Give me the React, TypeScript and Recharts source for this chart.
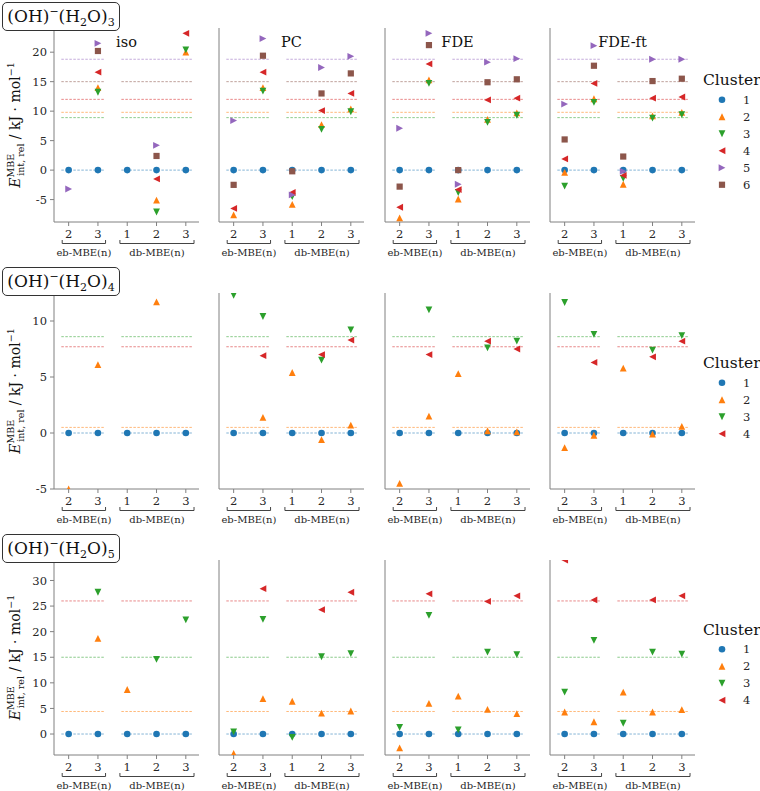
import React from "react";
import { ScatterChart, Scatter, XAxis, YAxis, ReferenceLine } from "recharts";

const FONT = "'DejaVu Serif', serif";
const TEXT = "#262626";
const SPINE = "#808080";

const COLORS = ["#1f77b4", "#ff7f0e", "#2ca02c", "#d62728", "#9467bd", "#8c564b"];
const SHAPES = ["circle", "up", "down", "left", "right", "square"];

const METHODS = ["iso", "PC", "FDE", "FDE-ft"];
const X_TICKS = [0, 1, 2, 3, 4];
const X_TICK_LABELS = ["2", "3", "1", "2", "3"];
const GROUP_LABELS = ["eb-MBE(n)", "db-MBE(n)"];
const GROUP_SPANS = [[-0.22, 1.26], [1.75, 4.28]];
const REF_SPANS = [[-0.25, 1.2], [1.8, 4.25]];
const XMIN = -0.5;
const XMAX = 4.45;

// (OH)-(H2O)3 : clusters 1..6, positions eb2 eb3 db1 db2 db3
const W3_REF = [0, 9.8, 8.9, 12.0, 18.8, 15.0];
const W3_ISO = [
  [0, 0, 0, 0, 0],
  [null, 14.0, null, -5.1, 20.0],
  [null, 13.2, null, -7.1, 20.4],
  [null, 16.6, null, -1.5, 23.2],
  [-3.2, 21.5, null, 4.2, null],
  [null, 20.2, null, 2.4, null],
];
const W3_PC = [
  [0, 0, 0, 0, 0],
  [-7.6, 14.0, -5.8, 7.7, 10.4],
  [null, 13.4, -4.5, 6.9, 9.9],
  [-6.5, 16.6, -3.8, 10.1, 13.0],
  [8.4, 22.3, -4.2, 17.4, 19.3],
  [-2.5, 19.4, -0.2, 13.0, 16.4],
];
const W3_FDE = [
  [0, 0, 0, 0, 0],
  [-8.1, 15.3, -4.9, 8.6, 9.7],
  [null, 14.7, -3.8, 8.1, 9.3],
  [-6.3, 18.0, -3.3, 11.9, 12.2],
  [7.1, 23.2, -2.4, 18.3, 18.9],
  [-2.8, 21.2, 0.0, 14.9, 15.4],
];
const W3_FDEFT = [
  [0, 0, 0, 0, 0],
  [-0.4, 12.1, -2.4, 9.2, 9.8],
  [-2.7, 11.5, -1.4, 8.8, 9.4],
  [1.9, 14.7, -0.9, 12.2, 12.4],
  [11.2, 21.1, -0.2, 18.8, 18.8],
  [5.2, 17.7, 2.3, 15.1, 15.5],
];

// (OH)-(H2O)4 : clusters 1..4
const W4_REF = [0, 0.5, 8.6, 7.7];
const W4_ISO = [
  [0, 0, 0, 0, 0],
  [-5.0, 6.1, null, 11.7, null],
  [null, null, null, null, null],
  [null, null, null, null, null],
];
const W4_PC = [
  [0, 0, 0, 0, 0],
  [null, 1.4, 5.4, -0.6, 0.7],
  [12.3, 10.4, null, 6.5, 9.2],
  [null, 6.9, null, 7.0, 8.3],
];
const W4_FDE = [
  [0, 0, 0, 0, 0],
  [-4.5, 1.5, 5.3, 0.2, 0.1],
  [null, 11.0, null, 7.6, 8.2],
  [null, 7.0, null, 8.2, 7.5],
];
const W4_FDEFT = [
  [0, 0, 0, 0, 0],
  [-1.3, -0.2, 5.8, -0.1, 0.6],
  [11.65, 8.8, null, 7.4, 8.7],
  [null, 6.3, null, 6.8, 8.2],
];

// (OH)-(H2O)5 : clusters 1..4
const W5_REF = [0, 4.4, 15.0, 26.0];
const W5_ISO = [
  [0, 0, 0, 0, 0],
  [null, 18.7, 8.7, null, null],
  [null, 27.7, null, 14.6, 22.3],
  [null, null, null, null, null],
];
const W5_PC = [
  [0, 0, 0, 0, 0],
  [-3.8, 6.9, 6.4, 4.1, 4.5],
  [0.4, 22.4, -0.65, 15.1, 15.7],
  [null, 28.4, null, 24.3, 27.7],
];
const W5_FDE = [
  [0, 0, 0, 0, 0],
  [-2.7, 6.0, 7.4, 4.8, 4.0],
  [1.3, 23.2, 0.8, 16.0, 15.5],
  [null, 27.4, null, 25.9, 27.0],
];
const W5_FDEFT = [
  [0, 0, 0, 0, 0],
  [4.3, 2.4, 8.2, 4.3, 4.75],
  [8.2, 18.3, 2.1, 16.0, 15.6],
  [34.0, 26.2, null, 26.2, 27.0],
];

const ROWS = [
  { n: "3", ref: W3_REF, panels: [W3_ISO, W3_PC, W3_FDE, W3_FDEFT], domain: [-8.8, 24.1], ticks: [-5, 0, 5, 10, 15, 20], top: 28, h: 194 },
  { n: "4", ref: W4_REF, panels: [W4_ISO, W4_PC, W4_FDE, W4_FDEFT], domain: [-5, 12.5], ticks: [-5, 0, 5, 10], top: 293, h: 196 },
  { n: "5", ref: W5_REF, panels: [W5_ISO, W5_PC, W5_FDE, W5_FDEFT], domain: [-4.1, 34], ticks: [0, 5, 10, 15, 20, 25, 30], top: 560, h: 195 },
];

const PANEL_X = [54, 219, 385, 550];
const PLOT_W = 145;
const Y_W = 40;
const M_TOP = 10;
const X_H = 42;
const PX = PLOT_W / (XMAX - XMIN);

function Marker({ cx, cy, kind, color }: { cx: number; cy: number; kind: string; color: string }) {
  const s = 3.4;
  if (cx == null || cy == null || isNaN(cx) || isNaN(cy)) return null;
  switch (kind) {
    case "circle":
      return <circle cx={cx} cy={cy} r={3.3} fill={color} />;
    case "square":
      return <rect x={cx - 3.1} y={cy - 3.1} width={6.2} height={6.2} fill={color} />;
    case "up":
      return <polygon points={`${cx},${cy - s} ${cx - s},${cy + s} ${cx + s},${cy + s}`} fill={color} />;
    case "down":
      return <polygon points={`${cx},${cy + s} ${cx - s},${cy - s} ${cx + s},${cy - s}`} fill={color} />;
    case "left":
      return <polygon points={`${cx - s},${cy} ${cx + s},${cy - s} ${cx + s},${cy + s}`} fill={color} />;
    default:
      return <polygon points={`${cx + s},${cy} ${cx - s},${cy - s} ${cx - s},${cy + s}`} fill={color} />;
  }
}

function XTick(props: any) {
  const { x, y, payload } = props;
  const i = payload.value as number;
  const g = i === 0 ? 0 : i === 2 ? 1 : -1;
  return (
    <g>
      <text x={x} y={y + 11.5} textAnchor="middle" fontFamily={FONT} fontSize={11.5} fill={TEXT}>
        {X_TICK_LABELS[i]}
      </text>
      {g >= 0 && (() => {
        const x0 = x + (GROUP_SPANS[g][0] - i) * PX;
        const x1 = x + (GROUP_SPANS[g][1] - i) * PX;
        return (
          <g>
            <path d={`M${x0},${y + 14} V${y + 17.5} H${x1} V${y + 14}`} stroke="#444" strokeWidth={1} fill="none" />
            <text x={(x0 + x1) / 2} y={y + 29.5} textAnchor="middle" fontFamily={FONT} fontSize={10} fill={TEXT}>
              {GROUP_LABELS[g]}
            </text>
          </g>
        );
      })()}
    </g>
  );
}

function Panel({ row, col }: { row: (typeof ROWS)[number]; col: number }) {
  const vals = row.panels[col];
  return (
    <div style={{ position: "absolute", left: PANEL_X[col] - Y_W, top: row.top - M_TOP }}>
      <ScatterChart
        width={Y_W + PLOT_W + 8}
        height={M_TOP + row.h + X_H}
        margin={{ top: M_TOP, right: 8, left: 0, bottom: 0 }}
      >
        <XAxis
          type="number"
          dataKey="x"
          domain={[XMIN, XMAX]}
          ticks={X_TICKS}
          interval={0}
          allowDataOverflow
          height={X_H}
          stroke={SPINE}
          tickSize={4}
          tickMargin={0}
          tick={(p: any) => <XTick {...p} />}
        />
        <YAxis
          type="number"
          dataKey="y"
          domain={row.domain}
          ticks={row.ticks}
          interval={0}
          allowDataOverflow
          width={Y_W}
          stroke={SPINE}
          tickSize={4}
          tickMargin={3}
          tick={col === 0 ? { fontSize: 11.5, fill: TEXT, fontFamily: FONT } : false}
        />
        {row.ref.map((v, k) =>
          REF_SPANS.map((sp, j) => (
            <ReferenceLine
              key={`r${k}-${j}`}
              segment={[{ x: sp[0], y: v }, { x: sp[1], y: v }]}
              stroke={COLORS[k]}
              strokeOpacity={0.55}
              strokeWidth={1}
              strokeDasharray="2.5 1.5"
            />
          ))
        )}
        {vals.map((series, k) => {
          const data = series
            .map((v, i) => (v == null ? null : { x: X_TICKS[i], y: v }))
            .filter((d) => d !== null);
          return (
            <Scatter
              key={`s${k}`}
              data={data}
              isAnimationActive={false}
              fill={COLORS[k]}
              shape={(p: any) => <Marker cx={p.cx} cy={p.cy} kind={SHAPES[k]} color={COLORS[k]} />}
            />
          );
        })}
      </ScatterChart>
    </div>
  );
}

function RowBox({ n, top }: { n: string; top: number }) {
  return (
    <div
      style={{
        position: "absolute",
        left: 2,
        top: top - 26,
        width: 118,
        height: 29,
        border: "1px solid #333",
        borderRadius: 5,
        boxSizing: "border-box",
        fontFamily: FONT,
        fontSize: 17,
        color: "#111",
        display: "flex",
        alignItems: "center",
        justifyContent: "center",
        lineHeight: "17px",
        background: "white",
        zIndex: 2,
      }}
    >
      <span>
        (OH)<sup style={{ fontSize: 11, lineHeight: 0 }}>−</sup>(H<sub style={{ fontSize: 11, lineHeight: 0 }}>2</sub>O)
        <sub style={{ fontSize: 11, lineHeight: 0 }}>{n}</sub>
      </span>
    </div>
  );
}

export default function App() {
  return (
    <div style={{ position: "absolute", left: 0, top: 0, width: 760, height: 791, background: "white", overflow: "hidden" }}>
      {ROWS.map((row, r) => PANEL_X.map((_, c) => <Panel key={`p${r}-${c}`} row={row} col={c} />))}
      {ROWS.map((row, r) => (
        <RowBox key={`b${r}`} n={row.n} top={row.top} />
      ))}
      <svg width={760} height={791} style={{ position: "absolute", left: 0, top: 0, pointerEvents: "none", zIndex: 1 }}>
        {METHODS.map((m, c) => (
          <text key={m} x={PANEL_X[c] + PLOT_W / 2} y={47} textAnchor="middle" fontFamily={FONT} fontSize={14.5} fill="#111">
            {m}
          </text>
        ))}
        {ROWS.map((row, r) => (
          <g key={`yl${r}`} transform={`translate(20, ${row.top + row.h / 2}) rotate(-90)`}>
            <text textAnchor="middle" fontFamily={FONT} fontSize={14} fill="#111">
              <tspan fontStyle="italic">E</tspan>
              <tspan fontSize={9.5} dy={-6}>MBE</tspan>
              <tspan fontSize={9.5} dx={-22} dy={10}>int, rel</tspan>
              <tspan dy={-4}> / kJ · mol</tspan>
              <tspan fontSize={9.5} dy={-6}>−1</tspan>
            </text>
          </g>
        ))}
        {ROWS.map((row, r) => {
          const nItems = row.ref.length;
          const total = 11 + 14.5 + (nItems - 1) * 17 + 5;
          const base = row.top + row.h / 2 + 7 + 11 - total / 2;
          return (
            <g key={`lg${r}`}>
              <text x={703} y={base} fontFamily={FONT} fontSize={15.5} fill="#111">
                Cluster
              </text>
              {row.ref.map((_, k) => (
                <g key={k}>
                  <Marker cx={722} cy={base + 14.5 + k * 17} kind={SHAPES[k]} color={COLORS[k]} />
                  <text x={743} y={base + 14.5 + k * 17 + 4} fontFamily={FONT} fontSize={11.5} fill={TEXT}>
                    {k + 1}
                  </text>
                </g>
              ))}
            </g>
          );
        })}
      </svg>
    </div>
  );
}
